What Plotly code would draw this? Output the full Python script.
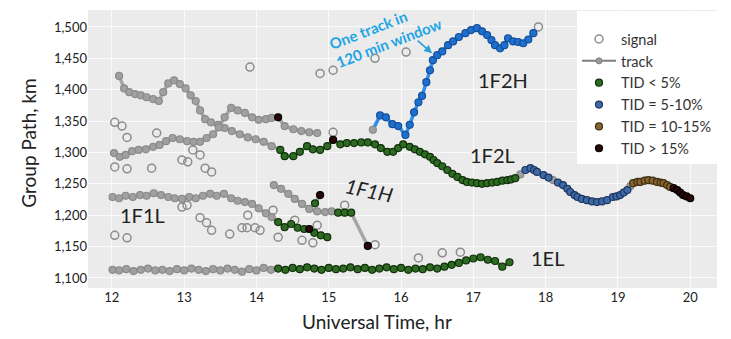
import plotly.graph_objects as go

# ---------------- data ----------------
# Each track: universal time (hr), group path (km), TID class for each sounding.
# Classes: n = plain track point, g = TID < 5%, b = TID 5-10%, o = TID 10-15%,
#          k = TID > 15%, h = highlighted 1F2H track.

f2l_t = [12.10, 12.17, 12.24, 12.32, 12.40, 12.48, 12.57, 12.65, 12.71, 12.78,
         12.86, 12.94, 13.02, 13.09, 13.16, 13.22, 13.29, 13.37, 13.47, 13.56,
         13.66, 13.77, 13.88, 13.99, 14.10, 14.21,
         14.33, 14.39, 14.51, 14.60, 14.70, 14.78, 14.88, 14.98,
         15.06,
         15.16, 15.25, 15.35, 15.45, 15.54, 15.64, 15.72, 15.81, 15.89, 15.96,
         16.03, 16.12, 16.19, 16.26, 16.33, 16.40, 16.45, 16.50, 16.57, 16.64,
         16.71, 16.78, 16.85, 16.91, 16.98, 17.05, 17.12, 17.19, 17.26, 17.33,
         17.40, 17.47, 17.52, 17.58,
         17.65,
         17.72, 17.79, 17.84, 17.88, 17.97, 18.04,
         18.10,
         18.17, 18.24, 18.30, 18.34, 18.40, 18.44, 18.50, 18.57, 18.64, 18.71,
         18.78, 18.85, 18.93, 18.98, 19.03, 19.08, 19.13,
         19.17,
         19.21, 19.27, 19.31, 19.37, 19.42, 19.48, 19.54, 19.59, 19.63, 19.68, 19.72,
         19.77, 19.82, 19.86, 19.90, 19.95, 20.00]
f2l_km = [1422, 1402, 1396, 1393, 1391, 1388, 1385, 1382, 1396, 1410,
          1415, 1409, 1402, 1391, 1382, 1367, 1353, 1348, 1344, 1339,
          1334, 1329, 1324, 1321, 1317, 1310,
          1304, 1294, 1294, 1301, 1310, 1305, 1304, 1310,
          1320,
          1313, 1315, 1315, 1316, 1316, 1313, 1307, 1301, 1301, 1307,
          1313, 1309, 1305, 1301, 1297, 1293, 1288, 1283, 1278, 1272,
          1266, 1261, 1256, 1253, 1252, 1251, 1250, 1251, 1252, 1253,
          1255, 1256, 1257, 1259,
          1265,
          1272, 1275, 1272, 1269, 1264, 1260,
          1256,
          1252, 1248, 1242, 1237, 1232, 1229, 1226, 1224, 1222, 1221,
          1222, 1224, 1229, 1230, 1232, 1236, 1240,
          1246,
          1251, 1253, 1253, 1255, 1256, 1255, 1253, 1252, 1251, 1248, 1245,
          1243, 1240, 1236, 1232, 1230, 1227]
f2l_cls = [("n", 26), ("g", 8), ("k", 1), ("g", 34), ("n", 1), ("b", 6), ("n", 1),
           ("b", 17), ("n", 1), ("o", 11), ("k", 6)]

f2h_t = [15.61, 15.71, 15.79, 15.88, 15.96, 16.06, 16.12, 16.18, 16.24, 16.29,
         16.35, 16.40, 16.44, 16.50, 16.57, 16.65, 16.72, 16.80, 16.89, 16.97,
         17.05, 17.12, 17.19, 17.25, 17.30, 17.37, 17.43, 17.48, 17.55, 17.62,
         17.69, 17.76, 17.83]
f2h_km = [1336, 1359, 1356, 1345, 1342, 1328, 1344, 1364, 1380, 1390,
          1412, 1431, 1447, 1455, 1461, 1471, 1477, 1484, 1490, 1495,
          1498, 1493, 1487, 1479, 1471, 1466, 1471, 1482, 1477, 1476,
          1474, 1480, 1490]
f2h_cls = [("n", 1), ("h", 32)]

upper_t = [12.03, 12.11, 12.19, 12.28, 12.37, 12.47, 12.57, 12.66, 12.75, 12.84,
           12.94, 13.04, 13.13, 13.22, 13.31, 13.40, 13.48, 13.56, 13.65, 13.74,
           13.84, 13.94, 14.03, 14.13, 14.21, 14.30, 14.39, 14.51, 14.62, 14.73, 14.84]
upper_km = [1299, 1293, 1296, 1302, 1304, 1305, 1309, 1312, 1318, 1323,
            1321, 1318, 1317, 1317, 1323, 1329, 1340, 1356, 1371, 1367,
            1363, 1356, 1352, 1353, 1355, 1356, 1342, 1337, 1334, 1332, 1331]
upper_cls = [("n", 25), ("k", 1), ("n", 5)]

f1l_t = [12.01, 12.10, 12.19, 12.29, 12.39, 12.48, 12.58, 12.68, 12.78, 12.87,
         12.97, 13.07, 13.16, 13.26, 13.36, 13.45, 13.55, 13.65, 13.74, 13.84,
         13.94, 14.03, 14.13, 14.21,
         14.30, 14.39, 14.48, 14.57, 14.66, 14.73, 14.80, 14.89, 14.98]
f1l_km = [1229, 1227, 1231, 1229, 1232, 1231, 1235, 1232, 1229, 1227,
          1226, 1229, 1227, 1231, 1234, 1231, 1234, 1227, 1223, 1221,
          1218, 1211, 1203, 1197,
          1189, 1181, 1186, 1180, 1178, 1178, 1172, 1168, 1165]
f1l_cls = [("n", 24), ("g", 5), ("k", 1), ("g", 3)]

f1h_t = [14.24, 14.34, 14.44, 14.53, 14.63, 14.73, 14.84, 14.95, 15.04,
         15.13, 15.22, 15.31, 15.54]
f1h_km = [1248, 1242, 1234, 1226, 1218, 1210, 1206, 1205, 1206,
          1204, 1204, 1204, 1151]
f1h_cls = [("n", 9), ("g", 3), ("k", 1)]

f1h2_t = [14.81, 14.88]
f1h2_km = [1219, 1232]
f1h2_cls = [("g", 1), ("k", 1)]

el_t = [12.01, 12.10, 12.20, 12.30, 12.40, 12.50, 12.60, 12.70, 12.80, 12.90,
        13.00, 13.10, 13.20, 13.30, 13.40, 13.50, 13.60, 13.70, 13.80, 13.90,
        14.00, 14.10, 14.20,
        14.3, 14.4, 14.5, 14.6, 14.7, 14.8, 14.9, 15.0, 15.1, 15.2,
        15.3, 15.4, 15.5, 15.6, 15.7, 15.8, 15.9, 16.0, 16.1, 16.2,
        16.3, 16.4, 16.5, 16.6, 16.7, 16.8, 16.9, 17.0, 17.1, 17.2,
        17.3, 17.4, 17.5]
el_km = [1113, 1112, 1114, 1111, 1113, 1115, 1112, 1113, 1111, 1114,
         1112, 1115, 1113, 1111, 1114, 1112, 1115, 1113, 1110, 1114,
         1112, 1116, 1113,
         1115, 1113, 1116, 1114, 1117, 1115, 1113, 1116, 1114, 1115,
         1117, 1114, 1116, 1113, 1115, 1117, 1114, 1116, 1113, 1115,
         1114, 1117, 1115, 1118, 1121, 1124, 1128, 1131, 1133, 1129,
         1127, 1118, 1125]
el_cls = [("n", 23), ("g", 33)]

signal_t = [12.04, 12.14, 12.21, 12.62, 12.97, 13.05, 13.12, 13.22, 12.04, 12.21,
            12.55, 13.29, 13.38, 12.04, 12.21, 12.97, 13.04, 13.22, 13.31, 13.38,
            13.63, 13.80, 13.87, 13.98, 14.05, 13.88, 14.23, 14.30, 14.53, 14.63,
            14.78, 14.84, 15.22, 15.64, 13.91, 14.88, 15.06, 15.64, 16.07, 15.06,
            16.24, 16.57, 16.82, 17.90]
signal_km = [1348, 1342, 1324, 1331, 1288, 1285, 1304, 1296, 1277, 1274,
             1275, 1275, 1269, 1168, 1164, 1213, 1216, 1196, 1188, 1176,
             1170, 1180, 1180, 1180, 1176, 1200, 1208, 1165, 1192, 1160,
             1156, 1184, 1216, 1153, 1436, 1426, 1431, 1450, 1460, 1332,
             1132, 1140, 1141, 1500]

x_ticks = [12, 13, 14, 15, 16, 17, 18, 19, 20]
y_ticks = [1100, 1150, 1200, 1250, 1300, 1350, 1400, 1450, 1500]

tracks = [
    (f2l_t, f2l_km, f2l_cls),
    (upper_t, upper_km, upper_cls),
    (f1l_t, f1l_km, f1l_cls),
    (f1h_t, f1h_km, f1h_cls),
    (f1h2_t, f1h2_km, f1h2_cls),
    (el_t, el_km, el_cls),
    (f2h_t, f2h_km, f2h_cls),
]

# ---------------- styles ----------------
FONT = "Lato"
GRAY_LINE = "#a6a6a6"
CLASS_STYLE = {
    "n": dict(fill="#a0a0a0", edge="#8a8a8a", line=None),
    "g": dict(fill="#2e6b22", edge="#10300a", line="#5d9648", name="TID < 5%"),
    "b": dict(fill="#3d6aa6", edge="#1c3560", line="#7497cc", name="TID = 5-10%"),
    "o": dict(fill="#8a6430", edge="#3d2f12", line="#c8945a", name="TID = 10-15%"),
    "k": dict(fill="#2a0808", edge="#000000", line="#8a4a3a", name="TID > 15%"),
    "h": dict(fill="#1f6fd0", edge="#12509a", line="#2f8ee8"),
}


def expand(runs):
    out = []
    for c, n in runs:
        out.extend([c] * n)
    return out


fig = go.Figure()

# plain gray track lines (all tracks, whole length)
gx, gy = [], []
for t, km, runs in tracks:
    cls = expand(runs)
    if "h" in cls:
        continue
    gx += list(t) + [None]
    gy += list(km) + [None]
fig.add_trace(go.Scatter(x=gx, y=gy, mode="lines", line=dict(color=GRAY_LINE, width=3.5),
                         showlegend=False, hoverinfo="skip"))

# coloured line segments between consecutive points of the same class
for c in ["g", "b", "o", "k", "h"]:
    sx, sy = [], []
    for t, km, runs in tracks:
        cls = expand(runs)
        for i in range(len(t) - 1):
            same = cls[i] == c and cls[i + 1] == c
            bridge = c == "h" and cls[i + 1] == "h"
            if same or bridge:
                sx += [t[i], t[i + 1], None]
                sy += [km[i], km[i + 1], None]
    if sx:
        w = 3.5 if c == "h" else 2.5
        fig.add_trace(go.Scatter(x=sx, y=sy, mode="lines",
                                 line=dict(color=CLASS_STYLE[c]["line"], width=w),
                                 showlegend=False, hoverinfo="skip"))

# signal soundings (open circles)
fig.add_trace(go.Scatter(x=signal_t, y=signal_km, mode="markers", name="signal",
                         marker=dict(symbol="circle-open", size=8, color="#8c8c8c",
                                     line=dict(width=1.5)),
                         legendrank=1))

# legend entry for tracks
fig.add_trace(go.Scatter(x=[None], y=[None], mode="lines+markers", name="track",
                         line=dict(color="#7f7f7f", width=2),
                         marker=dict(size=6, color="#9a9a9a", line=dict(color="#7f7f7f", width=1)),
                         legendrank=2))

# markers per class
rank = 3
for c in ["n", "h", "g", "b", "o", "k"]:
    mx, my = [], []
    for t, km, runs in tracks:
        cls = expand(runs)
        for ti, ki, ci in zip(t, km, cls):
            if ci == c:
                mx.append(ti)
                my.append(ki)
    st = CLASS_STYLE[c]
    show = c in ("g", "b", "o", "k")
    fig.add_trace(go.Scatter(x=mx, y=my, mode="markers", name=st.get("name", c),
                             marker=dict(size=7, color=st["fill"],
                                         line=dict(color=st["edge"], width=1.2)),
                             showlegend=show, legendrank=rank))
    if show:
        rank += 1

# ---------------- annotations ----------------
labels = [
    ("1F2H", 17.41, 1415, 0, False),
    ("1F2L", 17.27, 1296, 0, False),
    ("1F1H", 15.56, 1240, 12, True),
    ("1F1L", 12.43, 1200, 0, False),
    ("1EL", 18.02, 1132, 0, False),
]
for text, x, y, ang, ital in labels:
    fig.add_annotation(x=x, y=y, text=f"<i>{text}</i>" if ital else text, showarrow=False,
                       textangle=ang, font=dict(family=FONT, size=20, color="#222222"))

fig.add_annotation(x=15.78, y=1488, text="<b>One track in<br>120 min window</b>",
                   showarrow=False, textangle=-21, align="left",
                   font=dict(family=FONT, size=15, color="#1ea5e6"))
fig.add_annotation(x=16.43, y=1458, text="", showarrow=True, ax=-16, ay=-14,
                   arrowhead=2, arrowsize=1, arrowwidth=1.6, arrowcolor="#2a9fd8")

# axis titles
fig.add_annotation(xref="paper", yref="paper", x=0.459, y=-0.122, yanchor="middle",
                   text="Universal Time, hr", showarrow=False,
                   font=dict(family=FONT, size=19, color="#222222"))
fig.add_annotation(xref="paper", yref="paper", x=-0.095, y=0.52, xanchor="center",
                   yanchor="middle", text="Group Path, km", textangle=-90, showarrow=False,
                   font=dict(family=FONT, size=19, color="#222222"))

# ---------------- layout ----------------
fig.update_layout(
    width=731, height=339,
    margin=dict(l=88, r=14, t=10, b=51),
    paper_bgcolor="white", plot_bgcolor="#ebebeb",
    font=dict(family=FONT, color="#222222"),
    legend=dict(x=1, y=0.995, xanchor="right", yanchor="top", bgcolor="white",
                font=dict(family=FONT, size=14.5, color="#333333"),
                title=dict(text=" ", font=dict(size=9)),
                tracegroupgap=0, itemwidth=34),
    xaxis=dict(range=[11.67, 20.37], tickvals=x_ticks, ticktext=[str(v) for v in x_ticks],
               showgrid=True, gridcolor="#fafafa", gridwidth=1, zeroline=False,
               tickfont=dict(family=FONT, size=13, color="#222222")),
    yaxis=dict(range=[1084, 1527], tickvals=y_ticks, tickformat=",d",
               showgrid=True, gridcolor="#fafafa", gridwidth=1, zeroline=False,
               tickfont=dict(family=FONT, size=13, color="#222222")),
)

fig.write_html("out.html")
